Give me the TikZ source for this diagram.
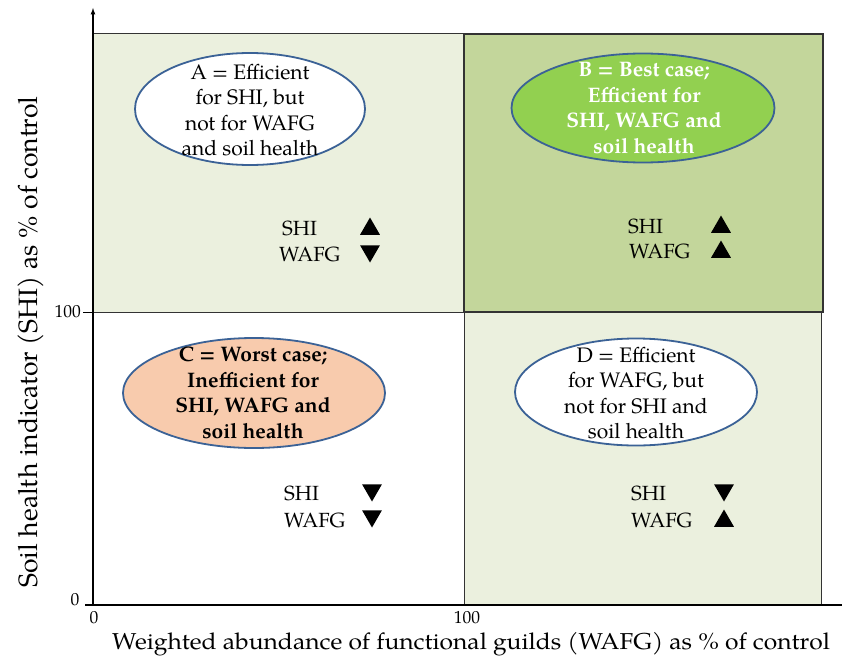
\documentclass[tikz,border=0pt]{standalone}
\usepackage{fontspec}
\setmainfont{TeX Gyre Pagella}
\usetikzlibrary{shapes.geometric}
\definecolor{quadlight}{HTML}{EBF0DE}
\definecolor{quadgreen}{HTML}{C3D69B}
\definecolor{bestgreen}{HTML}{92D050}
\definecolor{worstpeach}{HTML}{F8CBAD}
\definecolor{bubbleblue}{HTML}{3B6296}
\tikzstyle{quad} = [draw=black!80, line width=0.9pt]
\tikzstyle{bubble} = [ellipse, draw=bubbleblue, line width=1.8pt, inner sep=0pt]
\tikzstyle{bubbletext} = [align=center, inner sep=0pt, font=\fontsize{21}{25.5}\selectfont]
\tikzstyle{ind} = [anchor=west, inner sep=0pt, font=\fontsize{20.5}{22}\selectfont]
\tikzstyle{tri} = [regular polygon, regular polygon sides=3, fill=black, minimum size=23pt, inner sep=0pt]
\tikzstyle{tridown} = [tri, shape border rotate=180]
\tikzstyle{tick} = [inner sep=0pt, font=\fontsize{17.5}{19}\selectfont]

\begin{document}
\begin{tikzpicture}[x=1pt,y=-1pt]
    \useasboundingbox (0,0) rectangle (842,661);
    % quadrants
    \draw[quad, fill=quadlight] (93,33) rectangle (464,312);
    \draw[quad, fill=quadlight] (464,312) rectangle (821,605);
    \draw[quad, fill=quadgreen, line width=1.4pt] (464,34) rectangle (823,312);
    % axes
    \coordinate (o) at (93,605);
    \coordinate (ytip) at (93,8);
    \coordinate (xend) at (842,605);
    \coordinate (yhund) at (93,312);
    \draw[line width=1.2pt, -latex] (o) -- (ytip);
    \draw[line width=1.2pt] ([xshift=-8pt]o) -- (xend);
    \draw[line width=0.9pt] ([xshift=-10pt]yhund) -- (yhund);
    \node (y0) [tick] at (75,600) {0};
    \node (y100) [tick, anchor=east] at (81,312) {100};
    \node (x0) [tick] at (94,618) {0};
    \node (x100) [tick] at (467,618) {100};
    \node (xlab) [inner sep=0pt, xscale=1.07, font=\fontsize{23}{25}\selectfont] at (471,644) {Weighted abundance of functional guilds (WAFG) as \% of control};
    \node (ylab) [inner sep=0pt, font=\fontsize{26.5}{28}\selectfont, rotate=90] at (31,342) {Soil health indicator (SHI) as \% of control};
    % ellipses
    \node (ellA) [bubble, fill=white, minimum width=230pt, minimum height=112pt] at (250,109) {};
    \node (ellB) [bubble, fill=bestgreen, minimum width=263pt, minimum height=109pt] at (643,108) {};
    \node (ellC) [bubble, fill=worstpeach, minimum width=262pt, minimum height=110pt] at (254,393) {};
    \node (ellD) [bubble, fill=white, minimum width=242pt, minimum height=107pt] at (636,392) {};
    \node (txtA) [bubbletext] at (250,110) {A = Efficient\\for SHI, but\\not for WAFG\\and soil health};
    \node (txtB) [bubbletext, text=white, font=\fontsize{21}{25.5}\selectfont\bfseries] at (644,108) {B = Best case;\\Efficient for\\SHI, WAFG and\\soil health};
    \node (txtC) [bubbletext, font=\fontsize{21}{25.5}\selectfont\bfseries] at (253,393) {C = Worst case;\\Inefficient for\\SHI, WAFG and\\soil health};
    \node (txtD) [bubbletext] at (636,393) {D = Efficient\\for WAFG, but\\not for SHI and\\soil health};
    % indicators
    \node (shiA) [ind] at (282,228) {SHI};
    \node (wafgA) [ind] at (279,254) {WAFG};
    \node (upA) [tri] at (370,229) {};
    \node (dnA) [tridown] at (370,251) {};
    \node (shiB) [ind] at (628,226) {SHI};
    \node (wafgB) [ind] at (629,251) {WAFG};
    \node (upB) [tri] at (721,227) {};
    \node (upB2) [tri] at (721,252) {};
    \node (shiC) [ind] at (284,493) {SHI};
    \node (wafgC) [ind] at (284,520) {WAFG};
    \node (dnC) [tridown] at (372,490) {};
    \node (dnC2) [tridown] at (372,516) {};
    \node (shiD) [ind] at (631,493) {SHI};
    \node (wafgD) [ind] at (631,520) {WAFG};
    \node (dnD) [tridown] at (724,490) {};
    \node (upD) [tri] at (724,521) {};
\end{tikzpicture}
\end{document}
